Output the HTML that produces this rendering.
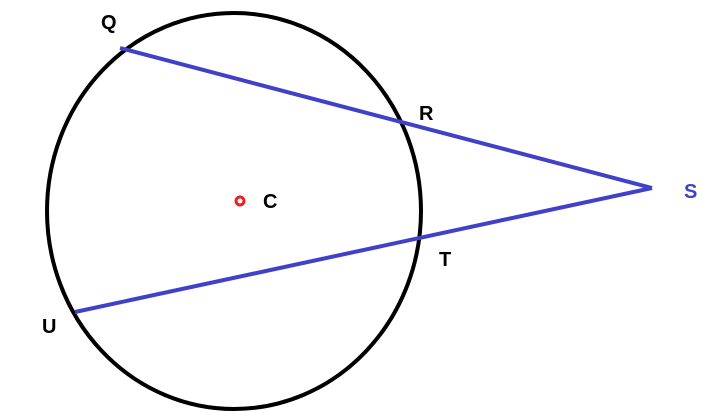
<!DOCTYPE html>
<html><head><style>html,body{margin:0;padding:0;background:#fff}</style></head>
<body>
<svg width="702" height="413" xmlns="http://www.w3.org/2000/svg" style="display:block">
<rect width="702" height="413" fill="#fff"/>
<ellipse cx="234" cy="211" rx="187" ry="198" fill="none" stroke="#000" stroke-width="4"/>
<line x1="120" y1="48" x2="652" y2="188" stroke="#4040c8" stroke-width="4"/>
<line x1="75" y1="312" x2="652" y2="188" stroke="#4040c8" stroke-width="4"/>
<circle cx="240" cy="201" r="4" fill="none" stroke="#e82020" stroke-width="3"/>
<g font-family="Liberation Sans, sans-serif" font-weight="bold" font-size="20">
<text x="101" y="29">Q</text>
<text x="419" y="120">R</text>
<text x="263" y="208">C</text>
<text x="684" y="198" fill="#4040c8">S</text>
<text x="439" y="266">T</text>
<text x="42" y="333">U</text>
</g>
</svg>
</body></html>
